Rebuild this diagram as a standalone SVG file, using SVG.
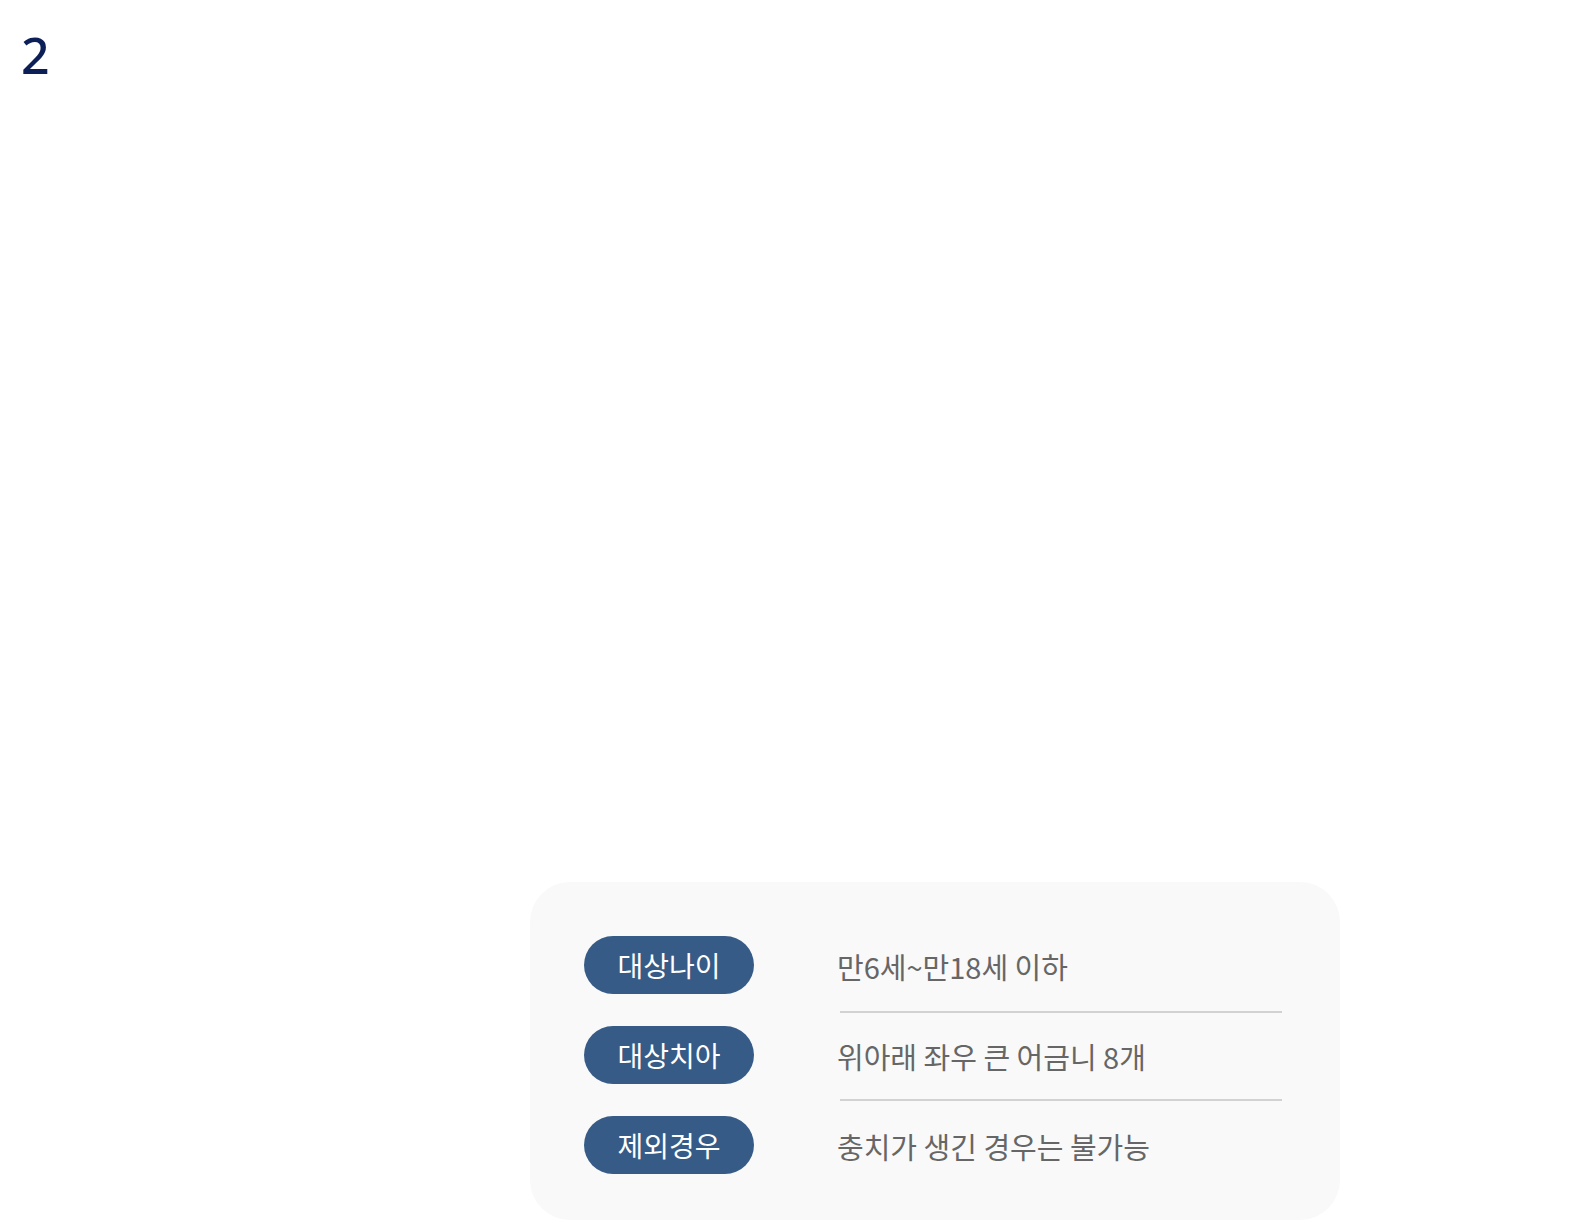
<svg xmlns="http://www.w3.org/2000/svg" width="1580" height="1220" viewBox="0 0 1580 1220">
<style>
.pill{fill:#365b87}
.pt{font-family:"Noto Sans CJK KR","Noto Sans",sans-serif;font-size:28px;font-weight:400;fill:#ffffff;text-anchor:middle}
.vt{font-family:"Noto Sans CJK KR","Noto Sans",sans-serif;font-size:29px;font-weight:400;fill:#666666}
.sep{stroke:#d2d2d2;stroke-width:2}
</style>
<rect width="1580" height="1220" fill="#ffffff"/>
<text x="21" y="74" font-family="Noto Sans, sans-serif" font-size="50" font-weight="500" fill="#0c1f56">2</text>
<g id="panel">
<rect x="530" y="882" width="810" height="338" rx="40" fill="#f9f9f9"/>
</g>
<g id="row1">
<rect class="pill" x="584" y="936" width="170" height="58" rx="29"/>
<text class="pt" x="669" y="977">대상나이</text>
<text class="vt" x="837" y="979">만6세~만18세 이하</text>
</g>
<g id="row2">
<rect class="pill" x="584" y="1026" width="170" height="58" rx="29"/>
<text class="pt" x="669" y="1067">대상치아</text>
<text class="vt" x="837" y="1069">위아래 좌우 큰 어금니 8개</text>
</g>
<g id="row3">
<rect class="pill" x="584" y="1116" width="170" height="58" rx="29"/>
<text class="pt" x="669" y="1157">제외경우</text>
<text class="vt" x="837" y="1159">충치가 생긴 경우는 불가능</text>
</g>
<g id="connectors">
<line class="sep" x1="840" y1="1012" x2="1282" y2="1012"/>
<line class="sep" x1="840" y1="1100" x2="1282" y2="1100"/>
</g>
</svg>
